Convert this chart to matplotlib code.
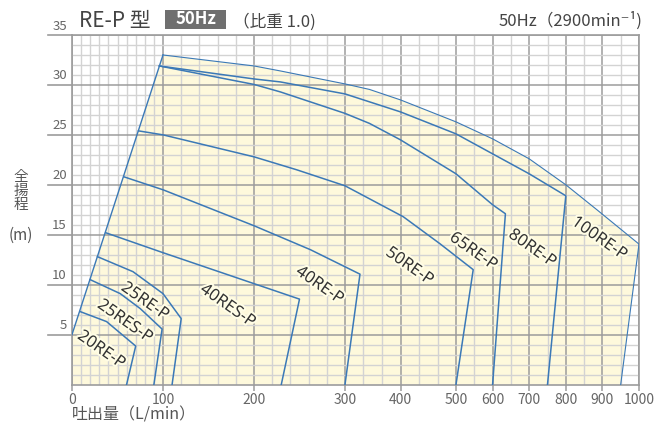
import numpy as np
import matplotlib
matplotlib.use("Agg")
import matplotlib.pyplot as plt
from matplotlib import patheffects
from matplotlib.patches import Rectangle
from matplotlib.ticker import FixedLocator

plt.rcParams['font.family'] = ['Noto Sans CJK JP', 'DejaVu Sans']

# axis ticks
x_ticks = [0, 100, 200, 300, 400, 500, 600, 700, 800, 900, 1000]
y_ticks = [5, 10, 15, 20, 25, 30, 35]

# pump curves (flow L/min, head m); last point is the foot of the cut-off line
q_20re = [9, 38, 70, 60]
h_20re = [7.3, 6.3, 3.85, 0]
q_25res = [20, 53, 75, 99, 90]
h_25res = [10.5, 9.1, 7.6, 5.55, 0]
q_25re = [28, 67, 100, 120, 110]
h_25re = [12.8, 11.3, 9.1, 6.6, 0]
q_40res = [37, 100, 200, 250, 230]
h_40res = [15.2, 13.2, 10.1, 8.55, 0]
q_40re = [57, 100, 200, 262, 327, 300]
h_40re = [20.8, 19.5, 15.9, 13.5, 11.05, 0]
q_50re = [73, 100, 200, 247, 300, 405, 471, 547, 500]
h_50re = [25.4, 25.0, 22.8, 21.5, 19.9, 16.8, 14.1, 11.5, 0]
q_65re = [96, 200, 229, 300, 344, 400, 500, 600, 635, 600]
h_65re = [31.9, 30.05, 29.3, 27.15, 26.15, 24.5, 21.1, 18.0, 17.1, 0]
q_80re = [96, 200, 229, 300, 400, 500, 600, 700, 800, 750]
h_80re = [31.9, 30.6, 30.3, 29.1, 27.3, 25.1, 23.1, 21.1, 18.9, 0]
q_100re = [100, 200, 229, 300, 344, 400, 500, 600, 700, 800, 885, 1000, 950]
h_100re = [33.0, 31.9, 31.4, 30.1, 29.55, 28.5, 26.3, 24.6, 22.6, 20.0, 17.5, 14.06, 0]

# left boundary of the covered range
q_edge = [0, 100]
h_edge = [5, 33.0]

model_names = ['20RE-P', '25RES-P', '25RE-P', '40RES-P', '40RE-P',
               '50RE-P', '65RE-P', '80RE-P', '100RE-P']
label_q = [32, 58, 80, 171, 272, 416, 547, 708, 891]
label_h = [3.45, 6.3, 8.3, 7.85, 9.9, 11.8, 13.3, 13.6, 14.6]

curves = [(q_20re, h_20re), (q_25res, h_25res), (q_25re, h_25re),
          (q_40res, h_40res), (q_40re, h_40re), (q_50re, h_50re),
          (q_65re, h_65re), (q_80re, h_80re), (q_100re, h_100re)]

# piecewise linear x scale (the chart squeezes the upper flow range)
Q_BRK = np.array([0, 300, 500, 1000], float)
P_BRK = np.array([0, 273, 384, 567], float)


def q_to_px(q):
    q = np.asarray(q, float)
    out = np.interp(q, Q_BRK, P_BRK)
    out = np.where(q < 0, q * 0.91, out)
    out = np.where(q > 1000, 567 + (q - 1000) * 0.366, out)
    return out


def px_to_q(p):
    p = np.asarray(p, float)
    out = np.interp(p, P_BRK, Q_BRK)
    out = np.where(p < 0, p / 0.91, out)
    out = np.where(p > 567, 1000 + (p - 567) / 0.366, out)
    return out


W, H = 654, 425
fig = plt.figure(figsize=(W / 100, H / 100), dpi=100)
ax = fig.add_axes([72 / W, 40.5 / H, 567 / W, 349.5 / H])
ax.set_xscale('function', functions=(q_to_px, px_to_q))
ax.set_xlim(0, 1000)
ax.set_ylim(0, 35)

x_minor = (list(range(10, 100, 10)) + list(range(120, 300, 20))
           + [333.3, 366.7, 433.3, 466.7] + list(range(550, 1000, 100)))
ax.xaxis.set_major_locator(FixedLocator(x_ticks))
ax.xaxis.set_minor_locator(FixedLocator(x_minor))
ax.yaxis.set_major_locator(FixedLocator(y_ticks))
ax.yaxis.set_minor_locator(FixedLocator([v for v in range(1, 35) if v % 5]))
ax.set_axisbelow(True)
ax.grid(which='major', color='#9c9c9c', lw=1.1)
ax.grid(which='minor', color='#d3d3d3', lw=1.0)
ax.tick_params(which='minor', length=0)
ax.tick_params(axis='x', which='major', length=4, color='#9c9c9c', width=1.1,
               labelsize=10, labelcolor='#666666', pad=2)
ax.tick_params(axis='y', which='major', length=0, labelleft=False)
for s in ax.spines.values():
    s.set_color('#9c9c9c')
    s.set_linewidth(1.2)

# covered range
poly_q = [0] + q_edge + q_100re + [0]
poly_h = [0] + h_edge + h_100re + [0]
ax.fill(poly_q, poly_h, color='#fef9dc', lw=0, zorder=0.1)

blue = '#3b79b7'
ax.plot(q_edge, h_edge, color=blue, lw=1.0, zorder=3)
for (q, h), name in zip(curves, model_names):
    ax.plot(q, h, color=blue, lw=0.8 if name == '100RE-P' else 1.1, zorder=3)

halo = [patheffects.withStroke(linewidth=3, foreground='#fffde6')]
for name, lq, lh in zip(model_names, label_q, label_h):
    ax.text(lq, lh, name, rotation=-35, ha='center', va='center',
            rotation_mode='anchor', fontsize=12, color='#333333',
            family=['Noto Sans', 'DejaVu Sans'], path_effects=halo, zorder=4)

# y tick labels sitting above a short leader line
ytr = ax.get_yaxis_transform()
for v in y_ticks:
    ax.plot([-0.043, 0], [v, v], transform=ytr, clip_on=False,
            color='#9c9c9c', lw=1.2)
    ax.text(-0.009, v + 0.25, str(v), transform=ytr, ha='right', va='bottom',
            fontsize=9.5, color='#666666')

# titles and axis names
fig.text(79 / W, 1 - 27 / H, 'RE-P 型', fontsize=15, color='#444444', va='baseline')
fig.add_artist(Rectangle((165 / W, 1 - 29 / H), 61 / W, 19 / H,
                         transform=fig.transFigure, color='#6f6f6f', lw=0))
fig.text(195.5 / W, 1 - 19.5 / H, '50Hz', fontsize=12, color='white',
         fontweight='bold', ha='center', va='center')
fig.text(233 / W, 1 - 27 / H, '（比重 1.0)', fontsize=12, color='#444444', va='baseline')
fig.text(642 / W, 1 - 26 / H, '50Hz（2900min⁻¹)', fontsize=12, color='#444444',
         ha='right', va='baseline')
fig.text(72 / W, 1 - 419 / H, '吐出量（L/min）', fontsize=11.5, color='#555555', va='baseline')
fig.text(21 / W, 1 - 191 / H, '全\n揚\n程', fontsize=10.5, color='#555555',
         ha='center', va='center', linespacing=1.0)
fig.text(21 / W, 1 - 235 / H, '(m)', fontsize=11, color='#555555',
         ha='center', va='center')

fig.savefig('out.png', dpi=100)
